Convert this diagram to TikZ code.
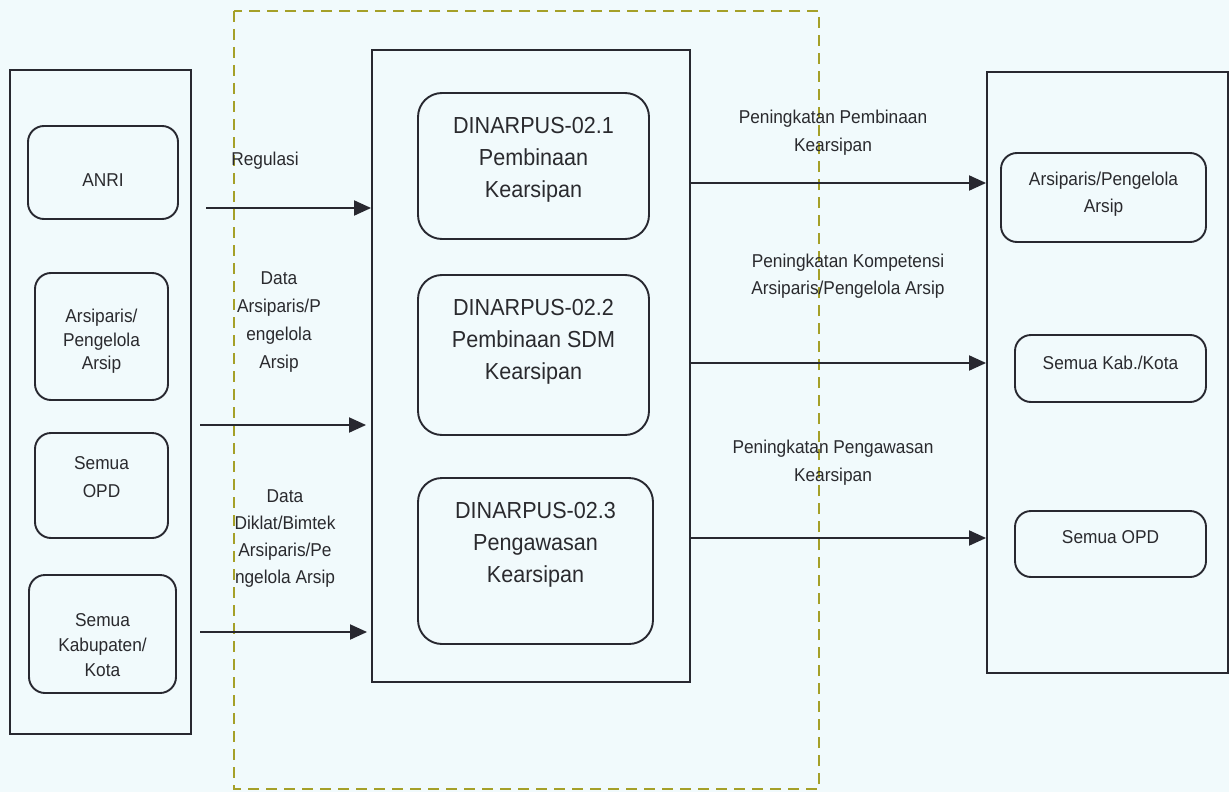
\documentclass[tikz,border=0pt]{standalone}
\usepackage{fontspec}
\setmainfont{Liberation Sans}[FakeStretch=0.93]
\usetikzlibrary{arrows.meta}
\definecolor{paper}{RGB}{241,250,252}
\definecolor{ink}{RGB}{40,40,48}
\definecolor{txt}{RGB}{42,42,46}
\definecolor{olive}{RGB}{165,160,40}
\tikzset{
  frame/.style={draw=ink, line width=1.9pt, rectangle, inner sep=0pt},
  rbox/.style={frame, rounded corners=16pt},
  smalltxt/.style={text=txt, align=center, inner sep=0pt, font=\fontsize{18.6}{28}\selectfont},
  bigtxt/.style={text=txt, align=center, inner sep=0pt, font=\fontsize{23.2}{32}\selectfont},
  arr/.style={draw=ink, line width=1.9pt, -{Triangle[length=17pt,width=15pt]}},
  scopebox/.style={draw=olive, line width=1.5pt, dash pattern=on 11pt off 7pt}
}
\begin{document}
\begin{tikzpicture}[x=1pt,y=-1pt]
  % page
  \fill[paper] (0,0) rectangle (1229,792);
  \useasboundingbox (0,0) rectangle (1229,792);

  % dashed scope around the process
  \draw[scopebox] (234,11) rectangle (819,789);

  % sources
  \node[frame, minimum width=181pt, minimum height=664pt] (L) at (100.5,402) {};
  \node[rbox, minimum width=150pt, minimum height=93pt] (anri) at (103,172.5) {};
  \node[smalltxt] at ([yshift=-7.5pt]anri.center) {ANRI};
  \node[rbox, minimum width=133pt, minimum height=127pt] (arsL) at (101.5,336.5) {};
  \node[smalltxt, font=\fontsize{18.6}{23.5}\selectfont] at ([yshift=-5pt]arsL.center) {Arsiparis/\\Pengelola\\Arsip};
  \node[rbox, minimum width=133pt, minimum height=105pt] (opdL) at (101.5,485.5) {};
  \node[smalltxt] at ([yshift=8pt]opdL.center) {Semua\\OPD};
  \node[rbox, minimum width=147pt, minimum height=118pt] (kabL) at (102.5,634) {};
  \node[smalltxt, font=\fontsize{18.6}{25}\selectfont] at ([yshift=-11pt]kabL.center) {Semua\\Kabupaten/\\Kota};

  % process
  \node[frame, minimum width=318pt, minimum height=632pt] (C) at (531,366) {};
  \node[rbox, rounded corners=24pt, minimum width=231pt, minimum height=146pt] (d1) at (533.5,166) {};
  \node[bigtxt] at ([yshift=6pt]d1.center) {DINARPUS-02.1\\Pembinaan\\Kearsipan};
  \node[rbox, rounded corners=24pt, minimum width=231pt, minimum height=160pt] (d2) at (533.5,355) {};
  \node[bigtxt] at ([yshift=13pt]d2.center) {DINARPUS-02.2\\Pembinaan SDM\\Kearsipan};
  \node[rbox, rounded corners=24pt, minimum width=235pt, minimum height=166pt] (d3) at (535.5,561) {};
  \node[bigtxt] at ([yshift=16pt]d3.center) {DINARPUS-02.3\\Pengawasan\\Kearsipan};

  % targets
  \node[frame, minimum width=241pt, minimum height=601pt] (R) at (1107.5,372.5) {};
  \node[rbox, minimum width=205pt, minimum height=89pt] (r1) at (1103.5,197.5) {};
  \node[smalltxt, font=\fontsize{18.6}{27}\selectfont] at ([yshift=3pt]r1.center) {Arsiparis/Pengelola\\Arsip};
  \node[rbox, minimum width=191pt, minimum height=67pt] (r2) at (1110.5,368.5) {};
  \node[smalltxt] at ([yshift=6pt]r2.center) {Semua Kab./Kota};
  \node[rbox, minimum width=191pt, minimum height=66pt] (r3) at (1110.5,544) {};
  \node[smalltxt] at ([yshift=7pt]r3.center) {Semua OPD};

  % inputs
  \coordinate (in1) at (206,208);
  \coordinate (in2) at (200,425);
  \coordinate (in3) at (200,632);
  \draw[arr] (in1) -- (in1 -| C.west);
  \draw[arr] (in2) -- ([xshift=-5pt]in2 -| C.west);
  \draw[arr] (in3) -- ([xshift=-4pt]in3 -| C.west);
  \node[smalltxt] (lreg) at (265,161) {Regulasi};
  \node[smalltxt] (ldata1) at (279,322.5) {Data\\Arsiparis/P\\engelola\\Arsip};
  \node[smalltxt, font=\fontsize{18.6}{27}\selectfont] (ldata2) at (285,539) {Data\\Diklat/Bimtek\\Arsiparis/Pe\\ngelola Arsip};

  % outputs
  \coordinate (out1) at (690,183);
  \coordinate (out2) at (690,363);
  \coordinate (out3) at (690,538);
  \draw[arr] (out1) -- (out1 -| R.west);
  \draw[arr] (out2) -- (out2 -| R.west);
  \draw[arr] (out3) -- (out3 -| R.west);
  \node[smalltxt] (lout1) at (833,132.5) {Peningkatan Pembinaan\\Kearsipan};
  \node[smalltxt, font=\fontsize{18.6}{27}\selectfont] (lout2) at (848,276.5) {Peningkatan Kompetensi\\Arsiparis/Pengelola Arsip};
  \node[smalltxt] (lout3) at (833,462.5) {Peningkatan Pengawasan\\Kearsipan};
\end{tikzpicture}
\end{document}
